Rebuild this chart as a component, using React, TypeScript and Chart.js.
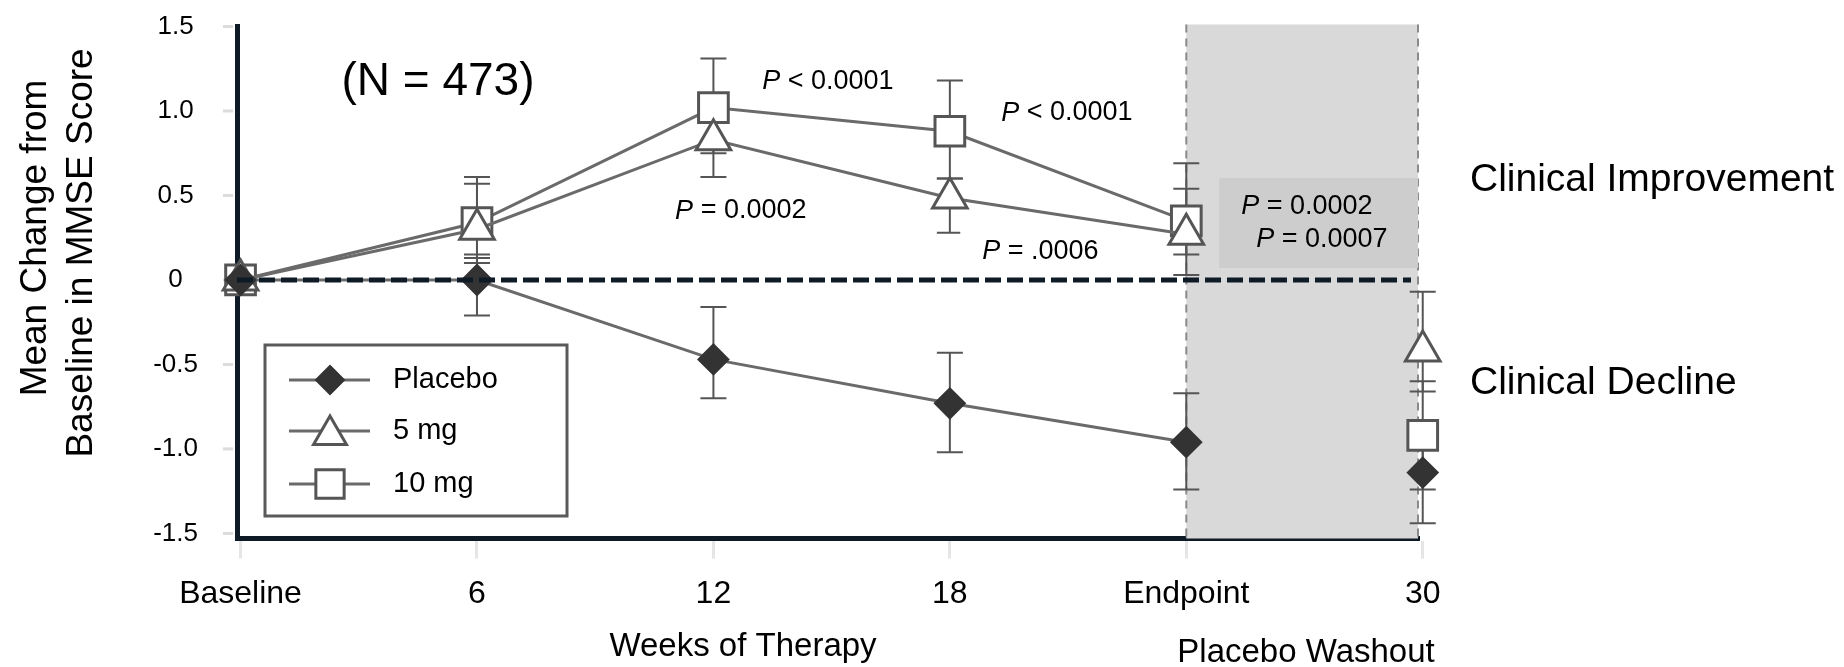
import React, { useEffect, useRef } from 'react';
import { Chart, registerables } from 'chart.js';
import { drawPoint } from 'chart.js/helpers';

Chart.register(...registerables);

// ---------- data ----------
const xLabels = ['Baseline', '6', '12', '18', 'Endpoint', '30'];
const xTickValues = [0, 1, 2, 3, 4, 5];
const yTickValues = [1.5, 1.0, 0.5, 0, -0.5, -1.0, -1.5];
const yTickLabels = ['1.5', '1.0', '0.5', '0', '-0.5', '-1.0', '-1.5'];

const seriesLabels = ['Placebo', '5 mg', '10 mg'];

const placebo = [0, 0, -0.47, -0.73, -0.96, -1.14];
const placeboHi = [0, 0.15, -0.16, -0.43, -0.67, -0.86];
const placeboLo = [0, -0.21, -0.7, -1.02, -1.24, -1.44];

const mg5 = [0, 0.3, 0.83, 0.485, 0.27, -0.42];
const mg5Hi = [0, 0.57, 1.07, 0.6, 0.54, -0.07];
const mg5Lo = [0, 0.1, 0.61, 0.28, 0.15, -0.66];

const mg10 = [0, 0.34, 1.02, 0.88, 0.35, -0.92];
const mg10Hi = [0, 0.61, 1.31, 1.18, 0.69, -0.6];
const mg10Lo = [0, 0.13, 0.75, 0.6, 0.03, -1.24];

const pNoteTexts = [' < 0.0001', ' < 0.0001', ' = 0.0002', ' = .0006', ' = 0.0002', ' = 0.0007'];
const pNoteX = [2.206, 3.217, 1.838, 3.137, 4.232, 4.296];
const pNoteY = [1.172, 0.988, 0.408, 0.166, 0.432, 0.237];

const nText = '(N = 473)';
const yTitle = ['Mean Change from', 'Baseline in MMSE Score'];
const xTitle = 'Weeks of Therapy';
const washoutTitle = 'Placebo Washout';
const regionLabels = ['Clinical Improvement', 'Clinical Decline'];

// ---------- styles ----------
const FONT = "'Liberation Sans', Arial, Helvetica, sans-serif";
const AXIS_COLOR = '#0e1b27';
const LINE_COLOR = '#6a6a6a';
const EDGE = '#555555';

const seriesStyles = [
  { pointStyle: 'rectRot', radius: 15, fill: '#333333', edge: '#333333', bw: 2 },
  { pointStyle: 'triangle', radius: 20, fill: '#ffffff', edge: EDGE, bw: 3 },
  { pointStyle: 'rect', radius: 21, fill: '#ffffff', edge: EDGE, bw: 3 },
];
const seriesValues = [placebo, mg5, mg10];
const seriesHi = [placeboHi, mg5Hi, mg10Hi];
const seriesLo = [placeboLo, mg5Lo, mg10Lo];

function drawPText(ctx: CanvasRenderingContext2D, x: number, y: number, rest: string, size: number) {
  ctx.textAlign = 'left';
  ctx.textBaseline = 'middle';
  ctx.fillStyle = '#000';
  ctx.font = `italic ${size}px ${FONT}`;
  ctx.fillText('P', x, y);
  const w = ctx.measureText('P').width;
  ctx.font = `${size}px ${FONT}`;
  ctx.fillText(rest, x + w, y);
  return w + ctx.measureText(rest).width;
}

const annotPlugin = {
  id: 'annot',
  beforeDatasetsDraw(chart: any) {
    const { ctx, chartArea, scales } = chart;
    const xs = scales.x;
    const ys = scales.y;
    ctx.save();
    // faint y tick marks
    ctx.strokeStyle = '#dcdcdc';
    ctx.lineWidth = 3;
    ys.ticks.forEach((t: any) => {
      const py = ys.getPixelForValue(t.value);
      ctx.beginPath();
      ctx.moveTo(chartArea.left - 14, py);
      ctx.lineTo(chartArea.left - 4, py);
      ctx.stroke();
    });
    // washout shading
    const sx = xs.getPixelForValue(4);
    const top = chartArea.top - 2;
    ctx.fillStyle = '#d9d9d9';
    ctx.fillRect(sx, top, chartArea.right - sx, chartArea.bottom - top);
    ctx.strokeStyle = '#8a8a8a';
    ctx.lineWidth = 2;
    ctx.setLineDash([8, 6]);
    ctx.beginPath();
    ctx.moveTo(sx, top);
    ctx.lineTo(sx, chartArea.bottom);
    ctx.moveTo(chartArea.right, top);
    ctx.lineTo(chartArea.right, chartArea.bottom);
    ctx.stroke();
    ctx.setLineDash([]);
    // grey p-value box in washout region
    const gx = xs.getPixelForValue(pNoteX[4]) - 22;
    const gy1 = ys.getPixelForValue(pNoteY[4]) - 29;
    const gy2 = ys.getPixelForValue(pNoteY[5]) + 28;
    ctx.fillStyle = '#cdcdcd';
    ctx.fillRect(gx, gy1, chartArea.right - gx, gy2 - gy1);
    // error bars
    ctx.strokeStyle = EDGE;
    ctx.lineWidth = 2;
    seriesValues.forEach((vals, si) => {
      vals.forEach((_, i) => {
        const hi = seriesHi[si][i];
        const lo = seriesLo[si][i];
        if (hi === lo) return;
        const px = xs.getPixelForValue(xTickValues[i]);
        const y1 = ys.getPixelForValue(hi);
        const y2 = ys.getPixelForValue(lo);
        ctx.beginPath();
        ctx.moveTo(px, y1);
        ctx.lineTo(px, y2);
        ctx.moveTo(px - 13, y1);
        ctx.lineTo(px + 13, y1);
        ctx.moveTo(px - 13, y2);
        ctx.lineTo(px + 13, y2);
        ctx.stroke();
      });
    });
    ctx.restore();
  },
  afterDatasetsDraw(chart: any) {
    const { ctx, chartArea, scales } = chart;
    const xs = scales.x;
    const ys = scales.y;
    ctx.save();

    // p-value notes
    pNoteTexts.forEach((t, i) => {
      const x = xs.getPixelForValue(pNoteX[i]);
      const y = ys.getPixelForValue(pNoteY[i]);
      ctx.font = `27px ${FONT}`;
      if (i < 4) {
        const w = ctx.measureText('P' + t).width;
        ctx.fillStyle = '#ffffff';
        ctx.fillRect(x - 22, y - 25, w + 22 + 26, 50);
      }
      drawPText(ctx, x, y, t, 27);
    });

    // zero reference line
    const zy = ys.getPixelForValue(0);
    ctx.strokeStyle = AXIS_COLOR;
    ctx.lineWidth = 5;
    ctx.setLineDash([16, 6]);
    ctx.beginPath();
    ctx.moveTo(chartArea.left, zy);
    ctx.lineTo(chartArea.right - 7, zy);
    ctx.stroke();
    ctx.setLineDash([]);

    // N text
    ctx.fillStyle = '#000';
    ctx.font = `46px ${FONT}`;
    ctx.textAlign = 'center';
    ctx.textBaseline = 'middle';
    ctx.fillText(nText, xs.getPixelForValue(0.835), ys.getPixelForValue(1.17));

    // legend
    const lx = 265, ly = 345, lw = 302, lh = 171;
    ctx.fillStyle = '#ffffff';
    ctx.fillRect(lx, ly, lw, lh);
    ctx.strokeStyle = '#5a5a5a';
    ctx.lineWidth = 3;
    ctx.strokeRect(lx, ly, lw, lh);
    const rowsY = [380, 431, 484];
    chart.data.datasets.forEach((ds: any, i: number) => {
      const st = seriesStyles[i];
      const y = rowsY[i];
      ctx.strokeStyle = LINE_COLOR;
      ctx.lineWidth = 3;
      ctx.beginPath();
      ctx.moveTo(289, y);
      ctx.lineTo(370, y);
      ctx.stroke();
      ctx.fillStyle = st.fill;
      ctx.strokeStyle = st.edge;
      ctx.lineWidth = st.bw;
      drawPoint(ctx, { pointStyle: st.pointStyle, radius: st.radius - 1, rotation: 0, borderWidth: st.bw } as any, 330, st.pointStyle === 'triangle' ? y + 4 : y);
      ctx.fillStyle = '#000';
      ctx.font = `29px ${FONT}`;
      ctx.textAlign = 'left';
      ctx.textBaseline = 'middle';
      ctx.fillText(ds.label, 393, y);
    });

    // region labels
    ctx.font = `39px ${FONT}`;
    ctx.textAlign = 'left';
    ctx.textBaseline = 'middle';
    ctx.fillStyle = '#000';
    ctx.fillText(regionLabels[0], chartArea.right + 52, ys.getPixelForValue(0.59));
    ctx.fillText(regionLabels[1], chartArea.right + 52, ys.getPixelForValue(-0.61));

    // axis titles
    ctx.font = `33px ${FONT}`;
    ctx.textAlign = 'center';
    ctx.fillText(xTitle, 743, 647);
    ctx.fillText(washoutTitle, 1306, 653);

    ctx.font = `37px ${FONT}`;
    ctx.save();
    ctx.translate(36, 238);
    ctx.rotate(-Math.PI / 2);
    ctx.fillText(yTitle[0], 0, 0);
    ctx.restore();
    ctx.save();
    ctx.translate(82, 253);
    ctx.rotate(-Math.PI / 2);
    ctx.fillText(yTitle[1], 0, 0);
    ctx.restore();

    ctx.restore();
  },
};

export default function App() {
  const ref = useRef<HTMLCanvasElement | null>(null);
  useEffect(() => {
    const canvas = ref.current;
    if (!canvas) return;
    const datasets = seriesValues.map((vals, si) => {
      const st = seriesStyles[si];
      return {
        label: seriesLabels[si],
        data: vals.map((y, i) => ({ x: xTickValues[i], y })),
        borderColor: LINE_COLOR,
        borderWidth: 3,
        pointStyle: st.pointStyle,
        pointRadius: st.radius,
        pointHoverRadius: st.radius,
        pointBackgroundColor: st.fill,
        pointBorderColor: st.edge,
        pointBorderWidth: st.bw,
        clip: false,
        tension: 0,
        fill: false,
        segment: {
          borderColor: (ctx: any) => (ctx.p1DataIndex === 5 ? 'rgba(0,0,0,0)' : LINE_COLOR),
        },
      };
    });
    const chart = new Chart(canvas, {
      type: 'line',
      data: { datasets } as any,
      options: {
        animation: false,
        responsive: true,
        maintainAspectRatio: false,
        events: [],
        layout: { autoPadding: false, padding: { left: 0, top: 26.5, right: 426, bottom: 0 } },
        plugins: {
          legend: { display: false },
          tooltip: { enabled: false },
        },
        scales: {
          x: {
            type: 'linear',
            min: -0.015,
            max: 4.98,
            afterBuildTicks: (s: any) => {
              s.ticks = xTickValues.map((v) => ({ value: v }));
            },
            afterFit: (s: any) => {
              s.height = 128.5;
            },
            ticks: {
              callback: (v: any) => {
                const idx = xTickValues.indexOf(Number(v));
                return idx >= 0 ? xLabels[idx] : '';
              },
              font: { family: FONT, size: 32 },
              color: '#000',
              padding: 16,
              maxRotation: 0,
              autoSkip: false,
            },
            grid: { drawOnChartArea: false, drawTicks: true, tickLength: 20, color: '#e6e6e6', lineWidth: 3 },
            border: { display: true, color: AXIS_COLOR, width: 5 },
          },
          y: {
            type: 'linear',
            min: -1.53,
            max: 1.5,
            afterBuildTicks: (s: any) => {
              s.ticks = yTickValues.map((v) => ({ value: v }));
            },
            afterFit: (s: any) => {
              s.width = 237;
            },
            ticks: {
              callback: (v: any) => {
                const idx = yTickValues.indexOf(Number(v));
                return idx >= 0 ? yTickLabels[idx] : '';
              },
              font: { family: FONT, size: 26 },
              color: '#000',
              crossAlign: 'center',
              padding: 0,
            },
            grid: { drawOnChartArea: false, drawTicks: true, tickLength: 39, color: 'rgba(0,0,0,0)', lineWidth: 1 },
            border: { display: true, color: AXIS_COLOR, width: 5 },
          },
        },
      } as any,
      plugins: [annotPlugin],
    });
    return () => chart.destroy();
  }, []);

  return (
    <div style={{ position: 'fixed', left: 0, top: 0, width: '1844px', height: '667px', background: '#fff' }}>
      <canvas ref={ref} />
    </div>
  );
}
